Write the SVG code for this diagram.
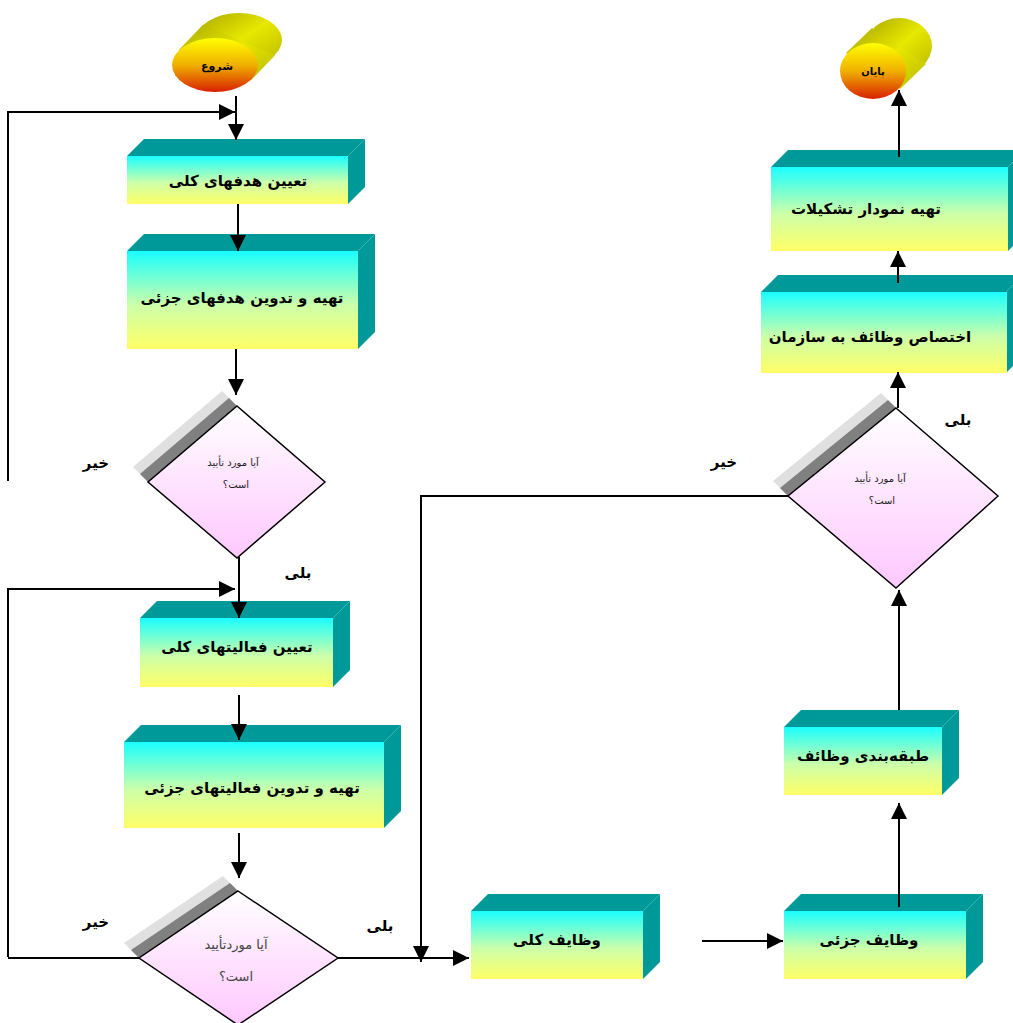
<svg xmlns="http://www.w3.org/2000/svg" width="1013" height="1023" viewBox="0 0 1013 1023">
<defs>
<linearGradient id="gFront" x1="0" y1="0" x2="0" y2="1">
<stop offset="0" stop-color="#1affff"/>
<stop offset="0.55" stop-color="#ccffaa"/>
<stop offset="1" stop-color="#ffff66"/>
</linearGradient>
<linearGradient id="gDia" x1="0" y1="0" x2="0" y2="1">
<stop offset="0" stop-color="#ffffff"/>
<stop offset="1" stop-color="#ffc8ff"/>
</linearGradient>
<linearGradient id="gCap" x1="0" y1="0" x2="0" y2="1">
<stop offset="0" stop-color="#ffff00"/>
<stop offset="0.5" stop-color="#f0b000"/>
<stop offset="1" stop-color="#d82000"/>
</linearGradient>
<linearGradient id="gBody" x1="0" y1="0" x2="1" y2="1">
<stop offset="0" stop-color="#a8a800"/>
<stop offset="0.5" stop-color="#e8e800"/>
<stop offset="1" stop-color="#b8b800"/>
</linearGradient>
<marker id="arr" markerUnits="userSpaceOnUse" markerWidth="16" markerHeight="16" viewBox="0 0 16 16" refX="16" refY="8" orient="auto">
<path d="M0,0 L16,8 L0,16 Z" fill="#000"/>
</marker>
</defs>
<style>
.front{fill:url(#gFront)}
.side{fill:#009999}
.dia{fill:url(#gDia);stroke:#000;stroke-width:1.5}
.sh1{fill:#e0e0e0}
.sh2{fill:#808080}
.t{font-family:"DejaVu Sans",sans-serif;font-weight:bold;font-size:15px;fill:#000;text-anchor:middle;direction:rtl}
.dt{font-family:"DejaVu Sans",sans-serif;font-size:10px;fill:#222;text-anchor:middle;direction:rtl}
.lbl{font-family:"DejaVu Sans",sans-serif;font-weight:bold;font-size:15px;fill:#000;text-anchor:middle;direction:rtl}
.c{fill:none;stroke:#000;stroke-width:2}
.a{marker-end:url(#arr)}
</style>

<g id="start">
<ellipse cx="239" cy="40" rx="43" ry="27" fill="url(#gBody)"/>
<polygon points="179,49.7 203,24.7 275,55.3 251,80.3" fill="url(#gBody)"/>
<ellipse cx="215" cy="65" rx="43" ry="27" fill="url(#gCap)"/>
<text class="t" x="217" y="70" style="font-size:11px">شروع</text>
</g>

<g id="end">
<ellipse cx="899" cy="46" rx="33" ry="28" fill="url(#gBody)"/>
<polygon points="846,53 872,28 926,64 900,89" fill="url(#gBody)"/>
<ellipse cx="873" cy="71" rx="33" ry="28" fill="url(#gCap)"/>
<text class="t" x="873" y="75" style="font-size:10px">پایان</text>
</g>

<g id="box1">
<polygon class="side" points="127,156 144,139 365,139 348,156"/>
<polygon class="side" points="348,156 365,139 365,187 348,204"/>
<rect class="front" x="127" y="156" width="221" height="48"/>
<text class="t" x="238" y="186">تعیین هدفهای کلی</text>
</g>

<g id="box2">
<polygon class="side" points="127,251 144,234 375,234 358,251"/>
<polygon class="side" points="358,251 375,234 375,332 358,349"/>
<rect class="front" x="127" y="251" width="231" height="98"/>
<text class="t" x="242" y="303">تهیه و تدوین هدفهای جزئی</text>
</g>

<g id="decision1">
<polygon class="sh1" points="237,406 148,482 133,467 222,391"/>
<polygon class="sh2" points="237,406 148,482 140,474 229,398"/>
<polygon class="dia" points="237,406 325,482 237,558 148,482"/>
<text class="dt" x="233" y="466">آیا مورد تأیید</text>
<text class="dt" x="236" y="488">است؟</text>
</g>

<g id="box3">
<polygon class="side" points="140,618 157,601 350,601 333,618"/>
<polygon class="side" points="333,618 350,601 350,670 333,687"/>
<rect class="front" x="140" y="618" width="193" height="69"/>
<text class="t" x="237" y="652">تعیین فعالیتهای کلی</text>
</g>

<g id="box4">
<polygon class="side" points="124,742 141,725 401,725 384,742"/>
<polygon class="side" points="384,742 401,725 401,811 384,828"/>
<rect class="front" x="124" y="742" width="260" height="86"/>
<text class="t" x="252" y="793">تهیه و تدوین فعالیتهای جزئی</text>
</g>

<g id="decision2">
<polygon class="sh1" points="238,891 139,958 124,943 223,876"/>
<polygon class="sh2" points="238,891 139,958 131,950 230,883"/>
<polygon class="dia" points="238,891 338,958 238,1025 139,958"/>
<text class="dt" x="236" y="949" style="font-size:13px;fill:#444">آیا موردتأیید</text>
<text class="dt" x="236" y="981" style="font-size:13px;fill:#444">است؟</text>
</g>

<g id="box5">
<polygon class="side" points="471,911 488,894 660,894 643,911"/>
<polygon class="side" points="643,911 660,894 660,962 643,979"/>
<rect class="front" x="471" y="911" width="172" height="68"/>
<text class="t" x="557" y="945">وظایف کلی</text>
</g>

<g id="box6">
<polygon class="side" points="784,911 801,894 983,894 966,911"/>
<polygon class="side" points="966,911 983,894 983,962 966,979"/>
<rect class="front" x="784" y="911" width="182" height="68"/>
<text class="t" x="869" y="945">وظایف جزئی</text>
</g>

<g id="box7">
<polygon class="side" points="784,727 801,710 959,710 942,727"/>
<polygon class="side" points="942,727 959,710 959,778 942,795"/>
<rect class="front" x="784" y="727" width="158" height="68"/>
<text class="t" x="863" y="761">طبقه‌بندی وظائف</text>
</g>

<g id="decision3">
<polygon class="sh1" points="896,408 788,496 773,481 881,393"/>
<polygon class="sh2" points="896,408 788,496 780,488 888,400"/>
<polygon class="dia" points="896,408 998,496 896,588 788,496"/>
<text class="dt" x="880" y="482">آیا مورد تأیید</text>
<text class="dt" x="882" y="504">است؟</text>
</g>

<g id="box8">
<polygon class="side" points="761,292 778,275 1023,275 1006,292"/>
<polygon class="side" points="1006,292 1023,275 1023,356 1006,373"/>
<rect class="front" x="761" y="292" width="246" height="81"/>
<text class="t" x="870" y="342">اختصاص وظائف به سازمان</text>
</g>

<g id="box9">
<polygon class="side" points="771,167 788,150 1025,150 1008,167"/>
<polygon class="side" points="1008,167 1025,150 1025,234 1008,251"/>
<rect class="front" x="771" y="167" width="237" height="84"/>
<text class="t" x="866" y="214">تهیه نمودار تشکیلات</text>
</g>

<g id="labels">
<text class="lbl" x="96" y="468">خیر</text>
<text class="lbl" x="298" y="578">بلی</text>
<text class="lbl" x="96" y="927">خیر</text>
<text class="lbl" x="380" y="931">بلی</text>
<text class="lbl" x="724" y="467">خیر</text>
<text class="lbl" x="958" y="425">بلی</text>
</g>

<g id="connectors">
<path class="c a" d="M236,96 V140"/>
<path class="c a" d="M8,481 V112 H235"/>
<path class="c a" d="M238,204 V251"/>
<path class="c a" d="M236,349 V395"/>
<path class="c a" d="M239,557 V618"/>
<path class="c a" d="M8,957 V589 H235"/>
<path class="c a" d="M239,695 V740"/>
<path class="c a" d="M239,833 V878"/>
<path class="c" d="M139,958 H8"/>
<path class="c a" d="M338,958 H469"/>
<path class="c a" d="M788,496 H421 V962"/>
<path class="c a" d="M702,941 H783"/>
<path class="c a" d="M899,907 V803"/>
<path class="c a" d="M899,710 V590"/>
<path class="c a" d="M898,408 V372"/>
<path class="c a" d="M898,283 V251"/>
<path class="c a" d="M899,157 V90"/>
</g>
</svg>
